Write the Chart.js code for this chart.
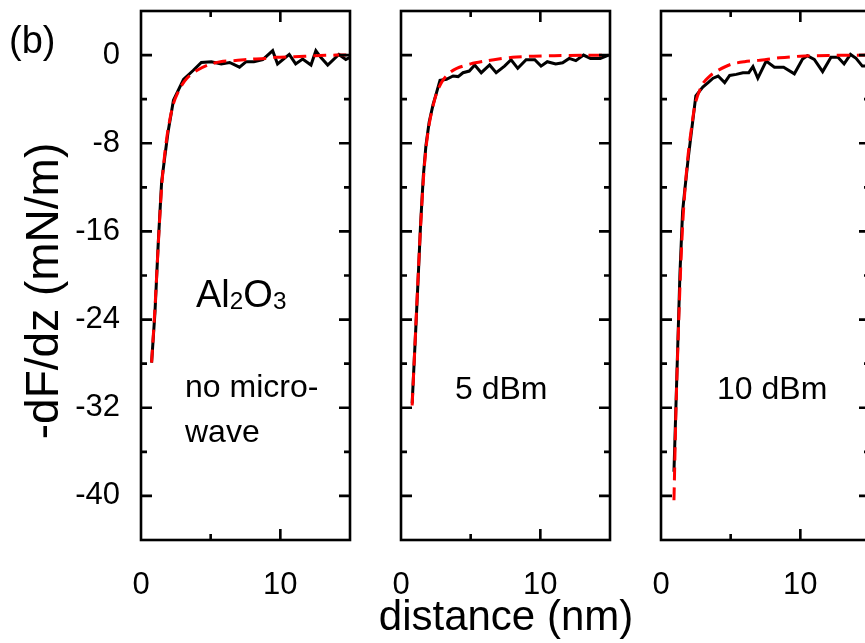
<!DOCTYPE html>
<html lang="en">
<head>
<meta charset="UTF-8">
<title>Force gradient vs distance</title>
<script src="https://cdn.jsdelivr.net/npm/chart.js"></script>
<style>
  html, body { margin: 0; padding: 0; background: #fff; overflow: hidden; }
  #wrap { position: relative; width: 865px; height: 643px; overflow: hidden; font-family: "Liberation Sans", Arial, sans-serif; color: #000; }
  #wrap canvas { position: absolute; top: 0; }
  .note { position: absolute; white-space: nowrap; line-height: 1; }
  .sub { font-size: 0.64em; position: relative; top: 0.08em; }
  .ytitle { position: absolute; left: 42px; top: 291px; font-size: 46px; white-space: nowrap; line-height: 1;
            transform: translate(-50%, -50%) rotate(-90deg); }
  .xtitle { position: absolute; left: 506px; top: 616px; font-size: 42px; white-space: nowrap; line-height: 1;
            transform: translate(-50%, -50%); }
</style>
</head>
<body>
<div id="wrap">
  <canvas id="p1" width="360" height="643" style="left:0px"></canvas>
  <canvas id="p2" width="230" height="643" style="left:390px"></canvas>
  <canvas id="p3" width="230" height="643" style="left:650px"></canvas>

  <div class="ytitle">-dF/dz (mN/m)</div>
  <div class="xtitle">distance (nm)</div>
  <div class="note" style="left:9px; top:21px; font-size:38px">(b)</div>
  <div class="note" style="left:196px; top:275px; font-size:38px">Al<span class="sub">2</span>O<span class="sub">3</span></div>
  <div class="note" style="left:185px; top:370px; font-size:32px">no micro-</div>
  <div class="note" style="left:185px; top:415px; font-size:32px">wave</div>
  <div class="note" style="left:455px; top:372px; font-size:32px">5 dBm</div>
  <div class="note" style="left:717px; top:372px; font-size:32px">10 dBm</div>
</div>

<script>
  // measured -dF/dz curves (black) and fitted curves (red dashed), per microwave power
  const distNone = [0.76, 1.0, 1.24, 1.48, 1.71, 1.95, 2.33, 3.05, 3.74, 4.33, 5.05, 5.76, 6.36, 7.07, 7.55, 8.1, 8.74, 9.45, 9.8, 10.64, 11.1, 11.6, 12.2, 12.55, 12.9, 13.4, 14.2, 14.7, 15.0]
  const dfdzNone = [-27.9, -23.4, -17.0, -11.5, -9.2, -6.9, -4.1, -2.2, -1.4, -0.67, -0.6, -0.8, -0.67, -1.1, -0.6, -0.6, -0.42, 0.4, -0.8, 0.06, -0.8, -0.36, -0.9, 0.4, -0.2, -0.9, 0.06, -0.4, -0.2]
  const fitDistNone = [0.76, 1.0, 1.24, 1.48, 1.71, 1.95, 2.33, 2.8, 3.3, 4.0, 4.8, 5.7, 6.8, 7.6, 8.9, 9.7, 11, 12.5, 14, 15]
  const fitNone = [-27.9, -23.0, -17.2, -12.0, -8.9, -6.7, -4.4, -3.0, -2.1, -1.4, -0.9, -0.6, -0.5, -0.4, -0.3, -0.2, -0.15, -0.06, 0, 0]

  const dist5 = [0.8, 1.07, 1.24, 1.4, 1.6, 1.79, 2.02, 2.3, 2.55, 2.8, 3.26, 3.74, 4.1, 4.45, 4.9, 5.29, 5.76, 6.36, 6.83, 7.43, 7.9, 8.38, 8.98, 9.6, 10.05, 10.5, 11.1, 11.6, 12.07, 12.55, 13.1, 13.6, 14.3, 14.9]
  const dfdz5 = [-31.6, -24.6, -20.0, -15.5, -11.0, -8.2, -6.1, -4.5, -3.4, -2.3, -2.2, -1.9, -1.95, -1.6, -1.45, -0.9, -1.6, -0.9, -1.6, -1.0, -0.42, -1.2, -0.42, -0.42, -1.0, -0.6, -0.8, -0.7, -0.3, -0.5, 0, -0.3, -0.3, 0]
  const fitDist5 = [0.8, 1.07, 1.24, 1.4, 1.6, 1.79, 2.02, 2.3, 2.6, 3.0, 3.5, 4.0, 5.0, 6.0, 7.0, 8.0, 9.5, 11, 13, 15]
  const fit5 = [-31.8, -24.4, -19.8, -15.7, -11.4, -8.5, -6.3, -4.6, -3.3, -2.3, -1.6, -1.2, -0.8, -0.55, -0.35, -0.2, -0.1, -0.05, -0.02, 0]

  const dist10 = [0.93, 1.36, 1.55, 1.71, 1.95, 2.19, 2.5, 3.0, 3.38, 3.74, 4.1, 4.57, 4.93, 5.4, 5.88, 6.3, 6.6, 6.95, 7.55, 8.14, 8.8, 9.57, 10.16, 10.5, 11.0, 11.6, 12.2, 12.7, 13.14, 13.6, 14.0, 14.45, 15.0]
  const dfdz10 = [-37.8, -19.8, -14.2, -12.2, -9.4, -6.9, -3.7, -2.9, -2.5, -2.1, -1.9, -2.5, -1.85, -1.75, -1.6, -1.6, -1.05, -2.1, -0.55, -1.1, -1.1, -1.7, -0.36, -0.06, -0.4, -1.5, -0.2, -0.2, -0.8, 0.06, -0.3, -1.0, -1.0]
  const fitDist10 = [0.93, 1.1, 1.36, 1.55, 1.71, 1.95, 2.19, 2.5, 3.0, 3.5, 4.0, 5.0, 6.0, 7.0, 8.5, 10, 12, 15]
  const fit10 = [-40.4, -31.0, -21.0, -15.5, -12.4, -9.0, -6.6, -4.2, -2.6, -1.9, -1.45, -0.85, -0.6, -0.48, -0.25, -0.1, -0.03, 0]

  const xTickLabels = [0, 10]
  const yTickLabels = [0, -8, -16, -24, -32, -40]

  const FONT = "'Liberation Sans', Arial, sans-serif"

  // closed frame with inward ticks on all four sides
  const frameTicks = {
    id: "frameTicks",
    afterDatasetsDraw(chart) {
      const { ctx, chartArea: a, scales: { x, y } } = chart
      ctx.save()
      ctx.strokeStyle = "#000"
      ctx.lineWidth = 2.6
      ctx.lineCap = "butt"
      ctx.beginPath()
      x.ticks.forEach(t => {
        if (t.value <= x.min || t.value >= x.max) return
        const px = x.getPixelForValue(t.value)
        const len = xTickLabels.includes(t.value) ? 11 : 6
        ctx.moveTo(px, a.bottom); ctx.lineTo(px, a.bottom - len)
        ctx.moveTo(px, a.top); ctx.lineTo(px, a.top + len)
      })
      y.ticks.forEach(t => {
        if (t.value <= y.min || t.value >= y.max) return
        const py = y.getPixelForValue(t.value)
        const len = yTickLabels.includes(t.value) ? 11 : 6
        ctx.moveTo(a.left, py); ctx.lineTo(a.left + len, py)
        ctx.moveTo(a.right, py); ctx.lineTo(a.right - len, py)
      })
      ctx.stroke()
      ctx.strokeRect(a.left, a.top, a.right - a.left, a.bottom - a.top)
      ctx.restore()
    }
  }

  const points = (xs, ys) => xs.map((d, i) => ({ x: d, y: ys[i] }))

  function makePanel(id, dist, dfdz, fitDist, fit, opts) {
    return new Chart(document.getElementById(id), {
      type: "line",
      data: {
        datasets: [
          {
            label: "fit",
            data: points(fitDist, fit),
            borderColor: "#ff0000",
            borderWidth: 3,
            borderDash: [13, 7],
            pointRadius: 0,
            tension: 0.3,
            order: 0,
          },
          {
            label: "data",
            data: points(dist, dfdz),
            borderColor: "#000",
            borderWidth: 3,
            pointRadius: 0,
            tension: 0,
            order: 1,
          },
        ],
      },
      options: {
        responsive: false,
        animation: false,
        devicePixelRatio: 1,
        layout: { padding: { top: 11, right: 10, left: 0, bottom: 0 } },
        plugins: { legend: { display: false }, tooltip: { enabled: false } },
        scales: {
          x: {
            type: "linear",
            min: 0,
            max: 15,
            grid: { display: false },
            border: { display: false },
            ticks: {
              stepSize: 5,
              autoSkip: false,
              maxRotation: 0,
              padding: 19,
              color: "#000",
              font: { family: FONT, size: 31 },
              callback: v => (xTickLabels.includes(v) ? String(v) : ""),
            },
            afterFit(s) {
              s.height = 103
              s.paddingLeft = 0
              s.paddingRight = 0
            },
          },
          y: {
            min: -44,
            max: 4,
            grid: { display: false },
            border: { display: false },
            ticks: {
              display: !!opts.yLabels,
              stepSize: 4,
              padding: 13,
              color: "#000",
              font: { family: FONT, size: 31 },
              callback: v => (yTickLabels.includes(v) ? String(v) : ""),
            },
            afterFit(s) {
              s.width = opts.axisWidth
              s.paddingTop = 0
              s.paddingBottom = 0
            },
          },
        },
      },
      plugins: [frameTicks],
    })
  }

  makePanel("p1", distNone, dfdzNone, fitDistNone, fitNone, { axisWidth: 141, yLabels: true })
  makePanel("p2", dist5, dfdz5, fitDist5, fit5, { axisWidth: 11 })
  makePanel("p3", dist10, dfdz10, fitDist10, fit10, { axisWidth: 11 })
</script>
</body>
</html>
